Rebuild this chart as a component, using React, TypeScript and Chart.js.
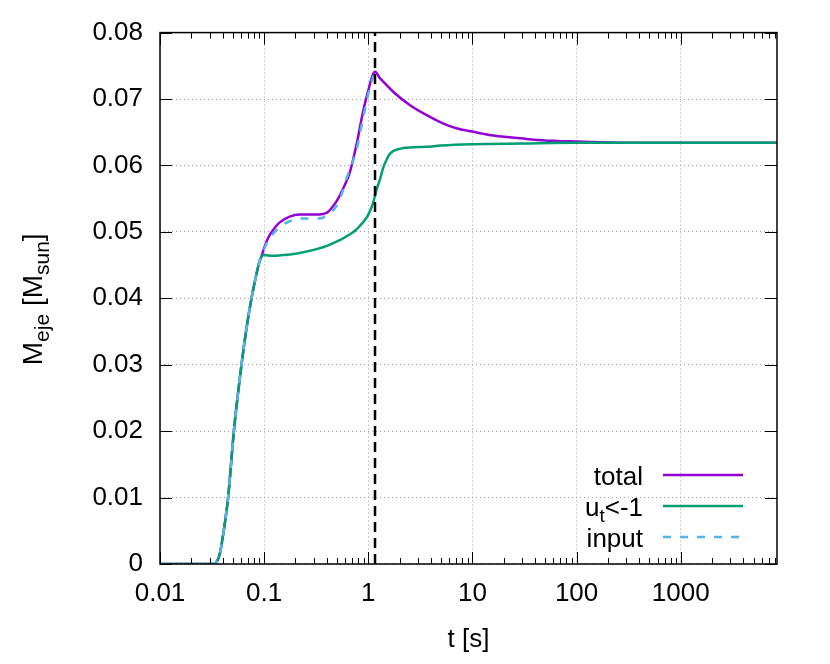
import React, { useEffect, useRef } from 'react';
import { Chart, registerables } from 'chart.js';
Chart.register(...registerables);

const FONT = '"Liberation Sans", Arial, Helvetica, sans-serif';
const FS = 26; // main text size
const FS_SUB = 19; // subscript size
const FS_YT = 28; // y title size
const FS_YT_SUB = 21;

// x axis (log) range and tick labels
const X_MIN = 0.01;
const X_MAX = 8400;
const X_MAJOR = [0.01, 0.1, 1, 10, 100, 1000];
const Y_MIN = 0;
const Y_MAX = 0.08;
const T_MERGE = 1.16; // vertical dashed marker

// common early rise (all three curves overlap)
const riseT = [0.01, 0.0336, 0.0355, 0.0375, 0.04, 0.0425, 0.0451, 0.0512, 0.0606, 0.0677, 0.0756, 0.0832, 0.09, 0.0943];
const riseM = [0, 0, 0.0005, 0.0015, 0.004, 0.0068, 0.01, 0.02, 0.03, 0.0355, 0.04, 0.0432, 0.0455, 0.0463];

// total
const totalT = [0.1, 0.11, 0.122, 0.14, 0.176, 0.22, 0.3, 0.37, 0.41, 0.45, 0.5, 0.56, 0.66, 0.77, 0.89, 1.0, 1.1, 1.16, 1.3, 1.5, 1.73, 2.5, 3.6, 5.26, 7, 10, 15.9, 33, 60, 100, 300, 1000, 8400];
const totalM = [0.0476, 0.0492, 0.0503, 0.0514, 0.0523, 0.0526, 0.0526, 0.0527, 0.053, 0.0537, 0.0547, 0.0562, 0.0588, 0.0631, 0.0681, 0.0713, 0.0736, 0.0741, 0.0731, 0.0721, 0.0711, 0.0691, 0.0676, 0.0663, 0.0656, 0.0651, 0.0645, 0.064, 0.0637, 0.0636, 0.0634, 0.0634, 0.0634];

// u_t < -1
const unbT = [0.1, 0.12, 0.152, 0.2, 0.25, 0.318, 0.4, 0.49, 0.57, 0.66, 0.75, 0.83, 0.92, 1.0, 1.08, 1.15, 1.21, 1.3, 1.38, 1.5, 1.6, 1.75, 2.0, 2.5, 3.6, 5, 10, 30, 100, 8400];
const unbM = [0.0465, 0.0464, 0.0465, 0.0467, 0.047, 0.0474, 0.0479, 0.0485, 0.049, 0.0496, 0.0502, 0.0509, 0.0517, 0.0526, 0.0538, 0.0552, 0.0565, 0.058, 0.0595, 0.0609, 0.0617, 0.0622, 0.0625, 0.0627, 0.0628, 0.063, 0.0632, 0.0633, 0.0634, 0.0634];

// input
const inputT = [0.1, 0.11, 0.122, 0.14, 0.176, 0.22, 0.3, 0.36, 0.4, 0.45, 0.49, 0.55, 0.62, 0.77, 0.89, 1.03, 1.1, 1.13];
const inputM = [0.0474, 0.0488, 0.0497, 0.0507, 0.0516, 0.052, 0.052, 0.0521, 0.0525, 0.0531, 0.0538, 0.0555, 0.0581, 0.0623, 0.0671, 0.0716, 0.0731, 0.0736];

const C_TOTAL = '#9400d3';
const C_UNB = '#009e73';
const C_INPUT = '#56b4e9';

const toPts = (t: number[], m: number[]) => t.map((v, i) => ({ x: v, y: m[i] }));

type Part = { t: string; sub?: boolean };

function richWidth(ctx: CanvasRenderingContext2D, parts: Part[], size: number, subSize: number) {
  let w = 0;
  for (const p of parts) {
    ctx.font = `${p.sub ? subSize : size}px ${FONT}`;
    w += ctx.measureText(p.t).width;
  }
  return w;
}
function drawRich(ctx: CanvasRenderingContext2D, parts: Part[], x: number, y: number, size: number, subSize: number, subShift: number) {
  let cx = x;
  ctx.textAlign = 'left';
  for (const p of parts) {
    ctx.font = `${p.sub ? subSize : size}px ${FONT}`;
    ctx.fillText(p.t, cx, p.sub ? y + subShift : y);
    cx += ctx.measureText(p.t).width;
  }
}

const framePlugin = {
  id: 'gnuFrame',
  afterDatasetsDraw(chart: any) {
    const { ctx, chartArea: a } = chart;
    const xs = chart.scales.x;
    const ys = chart.scales.y;
    ctx.save();
    ctx.strokeStyle = '#000';
    ctx.lineWidth = 1;
    ctx.setLineDash([]);
    ctx.beginPath();
    for (let d = -2; d <= 4; d++) {
      for (let k = 1; k <= 9; k++) {
        const v = k * Math.pow(10, d);
        if (v < X_MIN * 0.999 || v > X_MAX) continue;
        const px = Math.round(xs.getPixelForValue(v)) + 0.5;
        const len = k === 1 ? 12 : 6;
        ctx.moveTo(px, a.bottom);
        ctx.lineTo(px, a.bottom - len);
        ctx.moveTo(px, a.top);
        ctx.lineTo(px, a.top + len);
      }
    }
    for (let i = 0; i <= 8; i++) {
      const v = i * 0.01;
      const py = Math.round(ys.getPixelForValue(v)) + 0.5;
      ctx.moveTo(a.left, py);
      ctx.lineTo(a.left + 12, py);
      ctx.moveTo(a.right, py);
      ctx.lineTo(a.right - 12, py);
    }
    ctx.stroke();
    ctx.lineWidth = 1.5;
    ctx.strokeRect(a.left, a.top, a.right - a.left, a.bottom - a.top);
    ctx.restore();
  },
  afterDraw(chart: any) {
    const { ctx, chartArea: a } = chart;
    ctx.save();
    ctx.fillStyle = '#000';
    ctx.textBaseline = 'alphabetic';
    const yParts: Part[] = [{ t: 'M' }, { t: 'eje', sub: true }, { t: ' [M' }, { t: 'sun', sub: true }, { t: ']' }];
    const w = richWidth(ctx, yParts, FS_YT, FS_YT_SUB);
    ctx.translate(42, (a.top + a.bottom) / 2 + 1);
    ctx.rotate(-Math.PI / 2);
    drawRich(ctx, yParts, -w / 2, 0, FS_YT, FS_YT_SUB, 7);
    ctx.restore();

    ctx.save();
    const rows: { parts: Part[]; color: string; dash: number[] }[] = [
      { parts: [{ t: 'total' }], color: C_TOTAL, dash: [] },
      { parts: [{ t: 'u' }, { t: 't', sub: true }, { t: '<-1' }], color: C_UNB, dash: [] },
      { parts: [{ t: 'input' }], color: C_INPUT, dash: [8, 9] },
    ];
    const rowY = [475, 506, 537];
    rows.forEach((r, i) => {
      const y = rowY[i];
      ctx.fillStyle = '#000';
      const rw = richWidth(ctx, r.parts, FS, FS_SUB);
      drawRich(ctx, r.parts, 643 - rw, y + 10, FS, FS_SUB, 6);
      ctx.strokeStyle = r.color;
      ctx.lineWidth = 2.5;
      ctx.setLineDash(r.dash);
      ctx.beginPath();
      ctx.moveTo(663, y);
      ctx.lineTo(743, y);
      ctx.stroke();
    });
    ctx.restore();
  },
};

export default function App() {
  const ref = useRef<HTMLCanvasElement | null>(null);
  useEffect(() => {
    if (!ref.current) return;
    const line = { showLine: true, pointRadius: 0, borderWidth: 2.5, cubicInterpolationMode: 'monotone' };
    const chart = new Chart(ref.current, {
      type: 'scatter',
      data: {
        datasets: [
          {
            label: 'marker',
            data: [{ x: T_MERGE, y: Y_MIN }, { x: T_MERGE, y: Y_MAX }],
            showLine: true,
            borderColor: '#000',
            borderWidth: 2.5,
            borderDash: [10, 6],
            pointRadius: 0,
            order: 0,
          },
          { ...line, label: 'input', data: toPts([...riseT, ...inputT], [...riseM, ...inputM]), borderColor: C_INPUT, borderDash: [8, 9], order: 1 },
          { ...line, label: 'u_t<-1', data: toPts([...riseT, ...unbT], [...riseM, ...unbM]), borderColor: C_UNB, order: 2 },
          { ...line, label: 'total', data: toPts([...riseT, ...totalT], [...riseM, ...totalM]), borderColor: C_TOTAL, order: 3 },
        ],
      },
      options: {
        responsive: false,
        animation: false,
        devicePixelRatio: 1,
        layout: { padding: { left: 0, top: 31, right: 53, bottom: 0 } },
        plugins: { legend: { display: false }, tooltip: { enabled: false } },
        scales: {
          x: {
            type: 'logarithmic',
            min: X_MIN,
            max: X_MAX,
            afterBuildTicks: (s: any) => {
              s.ticks = X_MAJOR.map((v) => ({ value: v }));
            },
            afterFit: (s: any) => {
              s.height = 100;
            },
            ticks: {
              autoSkip: false,
              maxRotation: 0,
              padding: 14,
              color: '#000',
              font: { family: FONT, size: FS },
              callback: (v: any) => String(v),
            },
            grid: { color: '#a0a0a0', lineWidth: 1, drawTicks: false },
            border: { display: false, dash: [1, 3] },
            title: { display: true, text: 't [s]', color: '#000', font: { family: FONT, size: FS }, padding: { top: 0, bottom: 9 } },
          },
          y: {
            min: Y_MIN,
            max: Y_MAX,
            afterFit: (s: any) => {
              s.width = 160;
            },
            ticks: {
              stepSize: 0.01,
              padding: 17,
              color: '#000',
              font: { family: FONT, size: FS },
              callback: (v: any) => (Math.abs(v) < 1e-9 ? '0' : Number(v).toFixed(2)),
            },
            grid: { color: '#a0a0a0', lineWidth: 1, drawTicks: false },
            border: { display: false, dash: [1, 3] },
          },
        },
      },
      plugins: [framePlugin],
    } as any);
    return () => chart.destroy();
  }, []);
  return (
    <div style={{ position: 'fixed', left: 0, top: 0, width: 830, height: 664, background: '#fff' }}>
      <canvas ref={ref} width={830} height={664} style={{ width: 830, height: 664 }} />
    </div>
  );
}
